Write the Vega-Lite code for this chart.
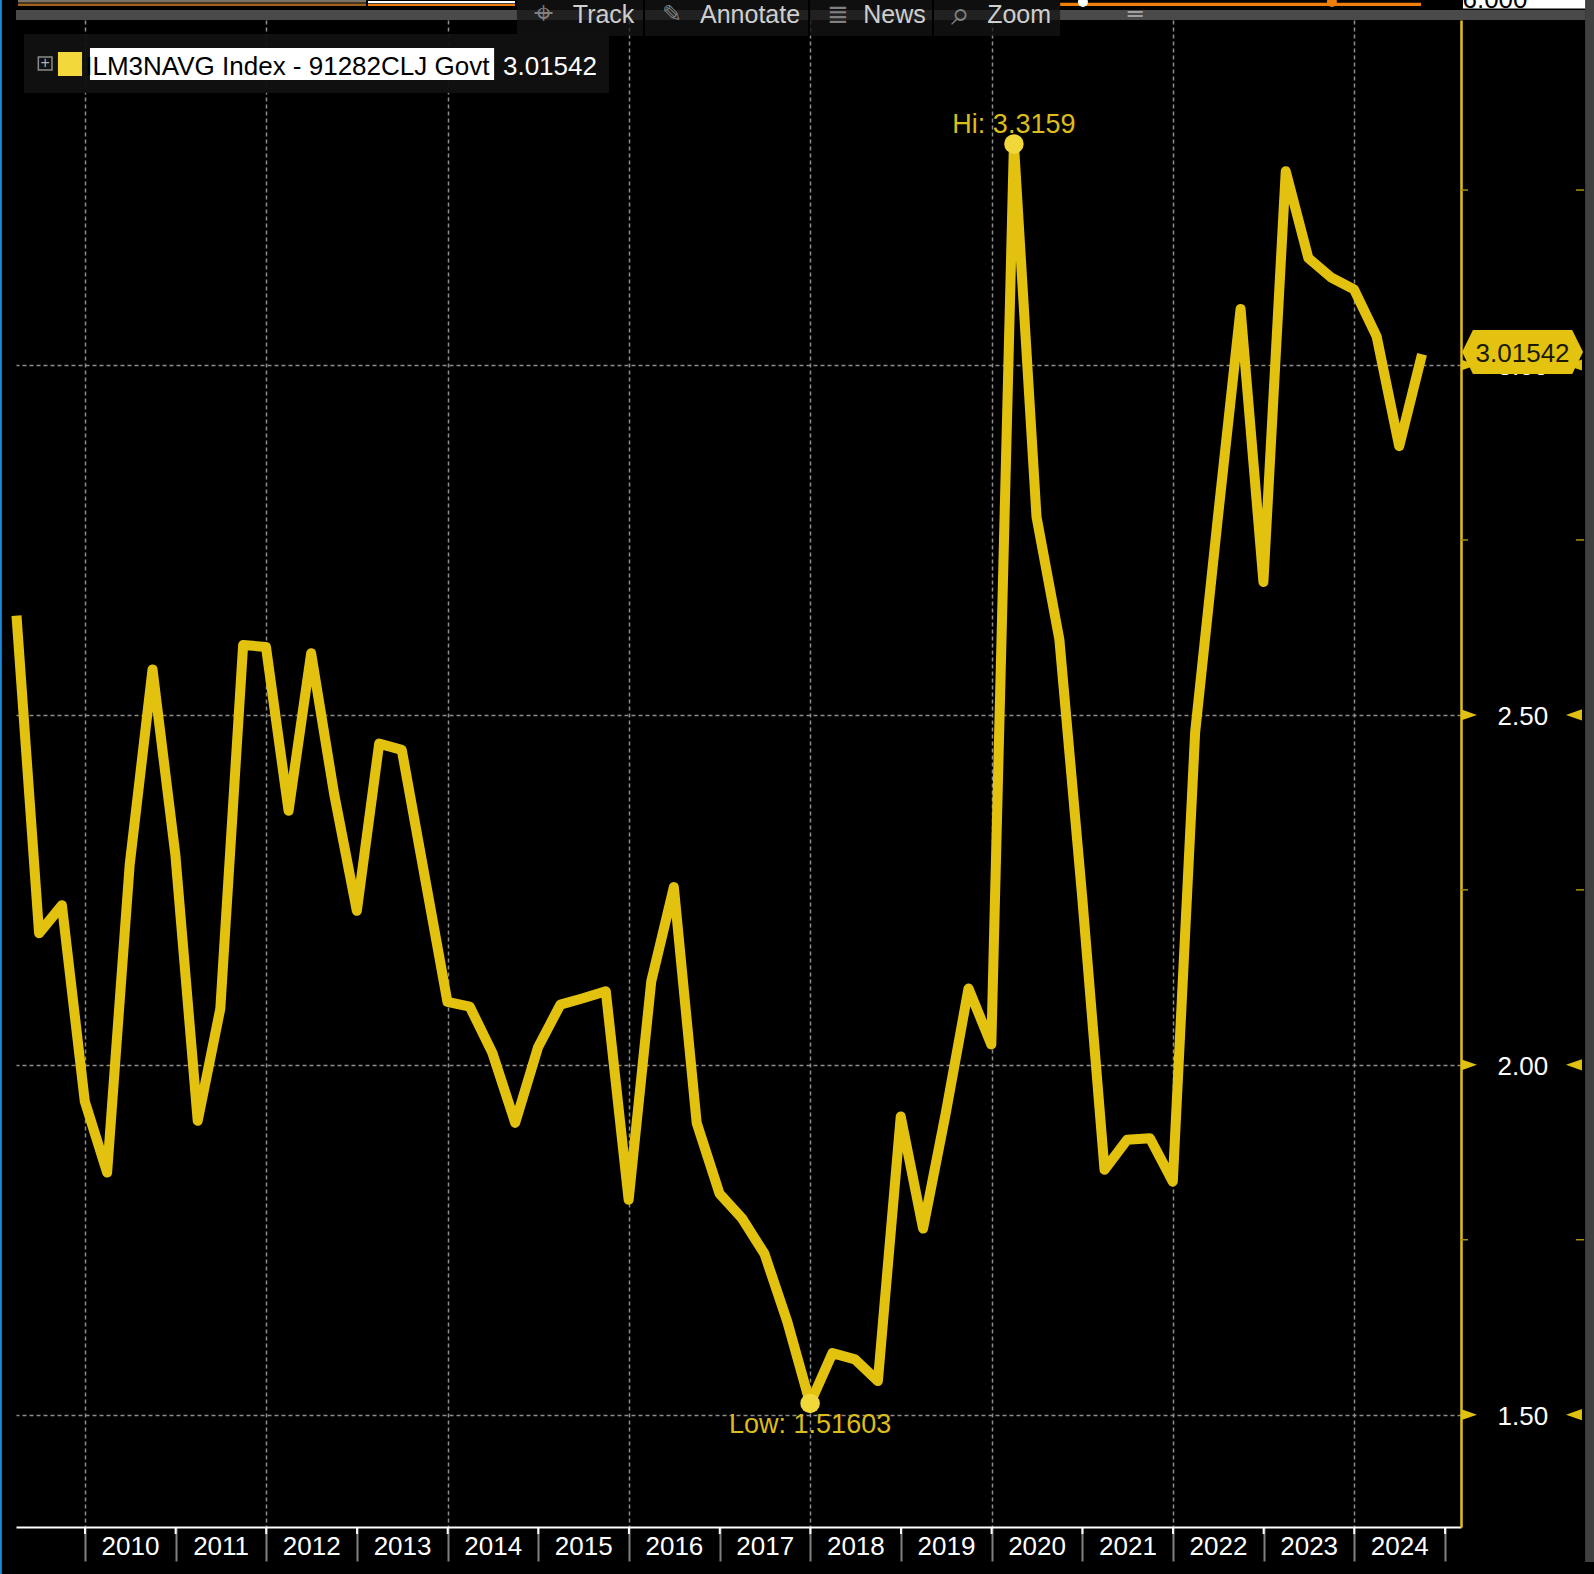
{"$schema":"https://vega.github.io/schema/vega-lite/v6.json","width":1445,"height":1507,"autosize":"none","padding":{"left":16,"top":20,"right":133,"bottom":47},"background":"#000000","view":{"stroke":null},"config":{"text":{"font":"Liberation Sans"},"axis":{"labelFont":"Liberation Sans"}},
"datasets":{"one":[{"note":"annotation"}],"minor":[{"v":1.75},{"v":2.25},{"v":2.75},{"v":3.25}],"major":[{"v":1.5},{"v":2.0},{"v":2.5},{"v":3.0}],
"years":[{"d":"2010-01-01"},{"d":"2011-01-01"},{"d":"2012-01-01"},{"d":"2013-01-01"},{"d":"2014-01-01"},{"d":"2015-01-01"},{"d":"2016-01-01"},{"d":"2017-01-01"},{"d":"2018-01-01"},{"d":"2019-01-01"},{"d":"2020-01-01"},{"d":"2021-01-01"},{"d":"2022-01-01"},{"d":"2023-01-01"},{"d":"2024-01-01"},{"d":"2025-01-01"}],
"series":[{"date":"2009-03-31","value":2.642},{"date":"2009-06-30","value":2.188},{"date":"2009-09-30","value":2.228},{"date":"2009-12-31","value":1.948},{"date":"2010-03-31","value":1.846},{"date":"2010-06-30","value":2.286},{"date":"2010-09-30","value":2.565},{"date":"2010-12-31","value":2.30},{"date":"2011-03-31","value":1.92},{"date":"2011-06-30","value":2.08},{"date":"2011-09-30","value":2.60},{"date":"2011-12-31","value":2.597},{"date":"2012-03-31","value":2.363},{"date":"2012-06-30","value":2.588},{"date":"2012-09-30","value":2.388},{"date":"2012-12-31","value":2.22},{"date":"2013-03-31","value":2.459},{"date":"2013-06-30","value":2.45},{"date":"2013-09-30","value":2.27},{"date":"2013-12-31","value":2.09},{"date":"2014-03-31","value":2.083},{"date":"2014-06-30","value":2.017},{"date":"2014-09-30","value":1.917},{"date":"2014-12-31","value":2.025},{"date":"2015-03-31","value":2.086},{"date":"2015-06-30","value":2.095},{"date":"2015-09-30","value":2.105},{"date":"2015-12-31","value":1.807},{"date":"2016-03-31","value":2.119},{"date":"2016-06-30","value":2.254},{"date":"2016-09-30","value":1.917},{"date":"2016-12-31","value":1.816},{"date":"2017-03-31","value":1.781},{"date":"2017-06-30","value":1.73},{"date":"2017-09-30","value":1.633},{"date":"2017-12-31","value":1.51603},{"date":"2018-03-31","value":1.588},{"date":"2018-06-30","value":1.579},{"date":"2018-09-30","value":1.548},{"date":"2018-12-31","value":1.926},{"date":"2019-03-31","value":1.766},{"date":"2019-06-30","value":1.93},{"date":"2019-09-30","value":2.109},{"date":"2019-12-31","value":2.029},{"date":"2020-03-31","value":3.3159},{"date":"2020-06-30","value":2.783},{"date":"2020-09-30","value":2.608},{"date":"2020-12-31","value":2.24},{"date":"2021-03-31","value":1.85},{"date":"2021-06-30","value":1.893},{"date":"2021-09-30","value":1.895},{"date":"2021-12-31","value":1.833},{"date":"2022-03-31","value":2.475},{"date":"2022-06-30","value":2.78},{"date":"2022-09-30","value":3.08},{"date":"2022-12-31","value":2.69},{"date":"2023-03-31","value":3.277},{"date":"2023-06-30","value":3.153},{"date":"2023-09-30","value":3.125},{"date":"2023-12-31","value":3.108},{"date":"2024-03-31","value":3.041},{"date":"2024-06-30","value":2.884},{"date":"2024-09-30","value":3.01542}],
"extremes":[{"date":"2020-03-31","value":3.3159},{"date":"2017-12-31","value":1.51603}]},
"data":{"name":"one"},
"layer":[
{"data":{"name":"series"},"mark":{"type":"line","stroke":"#e2c20e","strokeWidth":10,"strokeJoin":"round","strokeCap":"butt","clip":false},"encoding":{
"x":{"field":"date","type":"temporal","title":null,"scale":{"type":"utc","domain":["2009-03-29","2025-03-06"]},"axis":{"tickCount":{"interval":"year","step":1},"labelExpr":"utcyear(datum.value)==2025?'':utcFormat(datum.value,'%Y')","labelFont":"Liberation Sans","labelFontSize":26,"labelColor":"#ffffff","labelAlign":"center","labelBaseline":"middle","labelOffset":45,"labelPadding":-15,"labelBound":false,"labelFlush":false,"labelOverlap":false,"tickSize":34,"tickColor":"#808080","tickWidth":2,"domainColor":"#ffffff","domainWidth":2,"grid":true,"gridColor":"#8c8c8c","gridWidth":1.5,"gridDash":[4,3],"gridOpacity":{"condition":{"test":"utcyear(datum.value)%2==0 && utcyear(datum.value)<2025","value":1},"value":0}}},
"y":{"field":"value","type":"quantitative","title":null,"scale":{"domain":[1.3395,3.493],"nice":false,"zero":false},"axis":{"orient":"right","values":[1.5,2,2.5,3],"format":".2f","labelFont":"Liberation Sans","labelFontSize":26,"labelColor":"#ffffff","labelAlign":"left","labelBaseline":"middle","labelOffset":2,"labelPadding":36,"tickSize":0,"domainColor":"#e0c010","domainWidth":2.5,"grid":true,"gridColor":"#8c8c8c","gridWidth":1.5,"gridDash":[4,3]}}}},
{"data":{"name":"years"},"mark":{"type":"rule","stroke":"#ffffff","strokeWidth":2},"encoding":{"x":{"field":"d","type":"temporal"},"y":{"datum":1.3395},"y2":{"datum":1.3295}}},
{"data":{"name":"extremes"},"mark":{"type":"point","filled":true,"fill":"#f1d83a","opacity":1,"size":380},"encoding":{"x":{"field":"date","type":"temporal"},"y":{"field":"value","type":"quantitative"}}},
{"mark":{"type":"text","text":"Hi: 3.3159","fontSize":27,"fill":"#dcbd1a","align":"center","baseline":"middle"},"encoding":{"x":{"datum":{"year":2020,"month":3,"date":31,"utc":true},"type":"temporal"},"y":{"datum":3.3430}}},
{"mark":{"type":"text","text":"Low: 1.51603","fontSize":27,"fill":"#dcbd1a","align":"center","baseline":"middle"},"encoding":{"x":{"datum":{"year":2017,"month":12,"date":31,"utc":true},"type":"temporal"},"y":{"datum":1.4853}}},
{"data":{"name":"minor"},"mark":{"type":"rule","stroke":"#a8920f","strokeWidth":1.5},"encoding":{"x":{"datum":{"year":2025,"month":3,"date":6,"utc":true},"type":"temporal"},"x2":{"datum":{"year":2025,"month":4,"date":3,"utc":true}},"y":{"field":"v","type":"quantitative"}}},
{"data":{"name":"minor"},"mark":{"type":"rule","stroke":"#a8920f","strokeWidth":1.5},"encoding":{"x":{"datum":{"year":2026,"month":6,"date":12,"utc":true},"type":"temporal"},"x2":{"datum":{"year":2026,"month":7,"date":15,"utc":true}},"y":{"field":"v","type":"quantitative"}}},
{"data":{"name":"major"},"mark":{"type":"point","filled":true,"opacity":1,"fill":"#e0c010","size":256,"shape":"M-1,-0.7 L1,0 L-1,0.7 Z"},"encoding":{"x":{"datum":{"year":2025,"month":4,"date":7,"utc":true},"type":"temporal"},"y":{"field":"v","type":"quantitative"}}},
{"data":{"name":"major"},"mark":{"type":"point","filled":true,"opacity":1,"fill":"#e0c010","size":256,"shape":"M1,-0.7 L-1,0 L1,0.7 Z"},"encoding":{"x":{"datum":{"year":2026,"month":6,"date":4,"utc":true},"type":"temporal"},"y":{"field":"v","type":"quantitative"}}},
{"mark":{"type":"point","filled":true,"opacity":1,"fill":"#e3c30f","size":14641,"shape":"M-1,0 L-0.82,-0.364 L0.82,-0.364 L1,0 L0.82,0.364 L-0.82,0.364 Z"},"encoding":{"x":{"datum":{"year":2025,"month":11,"date":9,"utc":true},"type":"temporal"},"y":{"datum":3.0186}}},
{"mark":{"type":"text","text":"3.01542","fontSize":26,"fill":"#1a1a00","align":"center","baseline":"middle"},"encoding":{"x":{"datum":{"year":2025,"month":11,"date":9,"utc":true},"type":"temporal"},"y":{"datum":3.0157}}},
{"mark":{"type":"rect","fill":"#404040"},"encoding":{"x":{"datum":{"year":2026,"month":7,"date":19,"utc":true},"type":"temporal"},"x2":{"datum":{"year":2026,"month":8,"date":24,"utc":true}},"y":{"datum":3.5216},"y2":{"datum":1.2895}}},
{"mark":{"type":"rect","fill":"#1e88d8"},"encoding":{"x":{"datum":{"year":2009,"month":1,"date":23,"utc":true},"type":"temporal"},"x2":{"datum":{"year":2009,"month":1,"date":31,"utc":true}},"y":{"datum":3.5216},"y2":{"datum":1.2724}}},
{"mark":{"type":"rect","fill":"#4a4a4a"},"encoding":{"x":{"datum":{"year":2009,"month":3,"date":29,"utc":true},"type":"temporal"},"x2":{"datum":{"year":2026,"month":7,"date":19,"utc":true}},"y":{"datum":3.5073},"y2":{"datum":3.4930}}},
{"mark":{"type":"rect","fill":"#7d7266"},"encoding":{"x":{"datum":{"year":2009,"month":4,"date":6,"utc":true},"type":"temporal"},"x2":{"datum":{"year":2013,"month":2,"date":6,"utc":true}},"y":{"datum":3.5216},"y2":{"datum":3.5180}}},
{"mark":{"type":"rect","fill":"#a0621c"},"encoding":{"x":{"datum":{"year":2009,"month":4,"date":6,"utc":true},"type":"temporal"},"x2":{"datum":{"year":2013,"month":2,"date":6,"utc":true}},"y":{"datum":3.5166},"y2":{"datum":3.5130}}},
{"mark":{"type":"rect","fill":"#ffffff"},"encoding":{"x":{"datum":{"year":2013,"month":2,"date":14,"utc":true},"type":"temporal"},"x2":{"datum":{"year":2014,"month":9,"date":29,"utc":true}},"y":{"datum":3.5200},"y2":{"datum":3.5170}}},
{"mark":{"type":"rect","fill":"#f07f09"},"encoding":{"x":{"datum":{"year":2013,"month":2,"date":14,"utc":true},"type":"temporal"},"x2":{"datum":{"year":2014,"month":9,"date":29,"utc":true}},"y":{"datum":3.5160},"y2":{"datum":3.5130}}},
{"mark":{"type":"rect","fill":"#f07f09"},"encoding":{"x":{"datum":{"year":2020,"month":10,"date":3,"utc":true},"type":"temporal"},"x2":{"datum":{"year":2024,"month":9,"date":26,"utc":true}},"y":{"datum":3.5175},"y2":{"datum":3.5130}}},
{"mark":{"type":"point","filled":true,"opacity":1,"fill":"#ffffff","size":100},"encoding":{"x":{"datum":{"year":2021,"month":1,"date":3,"utc":true},"type":"temporal"},"y":{"datum":3.5188}}},
{"mark":{"type":"point","filled":true,"opacity":1,"fill":"#f07f09","size":100},"encoding":{"x":{"datum":{"year":2023,"month":10,"date":3,"utc":true},"type":"temporal"},"y":{"datum":3.5188}}},
{"mark":{"type":"rect","fill":"#ffffff"},"encoding":{"x":{"datum":{"year":2025,"month":3,"date":14,"utc":true},"type":"temporal"},"x2":{"datum":{"year":2026,"month":7,"date":19,"utc":true}},"y":{"datum":3.5216},"y2":{"datum":3.5095}}},
{"mark":{"type":"text","text":"6.000","fontSize":26,"fill":"#000000","align":"center","baseline":"middle"},"encoding":{"x":{"datum":{"year":2025,"month":7,"date":21,"utc":true},"type":"temporal"},"y":{"datum":3.5216}}},
{"mark":{"type":"rect","fill":"#141414","opacity":0.75},"encoding":{"x":{"datum":{"year":2014,"month":10,"date":7,"utc":true},"type":"temporal"},"x2":{"datum":{"year":2020,"month":10,"date":3,"utc":true}},"y":{"datum":3.5216},"y2":{"datum":3.4701}}},
{"mark":{"type":"rule","stroke":"#000000","strokeWidth":2},"encoding":{"x":{"datum":{"year":2016,"month":3,"date":2,"utc":true},"type":"temporal"},"y":{"datum":3.5216},"y2":{"datum":3.4701}}},
{"mark":{"type":"rule","stroke":"#000000","strokeWidth":2},"encoding":{"x":{"datum":{"year":2017,"month":12,"date":27,"utc":true},"type":"temporal"},"y":{"datum":3.5216},"y2":{"datum":3.4701}}},
{"mark":{"type":"rule","stroke":"#000000","strokeWidth":2},"encoding":{"x":{"datum":{"year":2019,"month":5,"date":10,"utc":true},"type":"temporal"},"y":{"datum":3.5216},"y2":{"datum":3.4701}}},
{"mark":{"type":"text","text":"Track","fontSize":25,"fill":"#cfcfcf","align":"center","baseline":"middle"},"encoding":{"x":{"datum":{"year":2015,"month":9,"date":21,"utc":true},"type":"temporal"},"y":{"datum":3.4995}}},
{"mark":{"type":"text","text":"Annotate","fontSize":25,"fill":"#cfcfcf","align":"center","baseline":"middle"},"encoding":{"x":{"datum":{"year":2017,"month":5,"date":3,"utc":true},"type":"temporal"},"y":{"datum":3.4995}}},
{"mark":{"type":"text","text":"News","fontSize":25,"fill":"#cfcfcf","align":"center","baseline":"middle"},"encoding":{"x":{"datum":{"year":2018,"month":12,"date":6,"utc":true},"type":"temporal"},"y":{"datum":3.4995}}},
{"mark":{"type":"text","text":"Zoom","fontSize":25,"fill":"#cfcfcf","align":"center","baseline":"middle"},"encoding":{"x":{"datum":{"year":2020,"month":4,"date":21,"utc":true},"type":"temporal"},"y":{"datum":3.4995}}},
{"mark":{"type":"text","text":"⌖","font":"DejaVu Sans","fontSize":34,"fill":"#808080","align":"center","baseline":"middle"},"encoding":{"x":{"datum":{"year":2015,"month":1,"date":20,"utc":true},"type":"temporal"},"y":{"datum":3.4995}}},
{"mark":{"type":"text","text":"✎","font":"DejaVu Sans","fontSize":24,"fill":"#808080","align":"center","baseline":"middle"},"encoding":{"x":{"datum":{"year":2016,"month":6,"date":23,"utc":true},"type":"temporal"},"y":{"datum":3.5002}}},
{"mark":{"type":"text","text":"≣","font":"DejaVu Sans","fontSize":26,"fill":"#808080","align":"center","baseline":"middle"},"encoding":{"x":{"datum":{"year":2018,"month":4,"date":22,"utc":true},"type":"temporal"},"y":{"datum":3.5002}}},
{"mark":{"type":"text","text":"⌕","font":"DejaVu Sans","fontSize":34,"fill":"#808080","align":"center","baseline":"middle"},"encoding":{"x":{"datum":{"year":2019,"month":8,"date":27,"utc":true},"type":"temporal"},"y":{"datum":3.5002}}},
{"mark":{"type":"text","text":"═","font":"DejaVu Sans","fontSize":24,"fill":"#a0a0a0","align":"center","baseline":"middle"},"encoding":{"x":{"datum":{"year":2021,"month":8,"date":1,"utc":true},"type":"temporal"},"y":{"datum":3.5002}}},
{"mark":{"type":"rect","fill":"#111111","opacity":0.95},"encoding":{"x":{"datum":{"year":2009,"month":4,"date":30,"utc":true},"type":"temporal"},"x2":{"datum":{"year":2015,"month":10,"date":13,"utc":true}},"y":{"datum":3.4730},"y2":{"datum":3.3887}}},
{"mark":{"type":"rect","fill":"#111111","stroke":"#8a8a8a","strokeWidth":1.5},"encoding":{"x":{"datum":{"year":2009,"month":6,"date":27,"utc":true},"type":"temporal"},"x2":{"datum":{"year":2009,"month":8,"date":21,"utc":true}},"y":{"datum":3.4401},"y2":{"datum":3.4215}}},
{"mark":{"type":"text","text":"+","fontSize":16,"fill":"#b0b0b0","align":"center","baseline":"middle"},"encoding":{"x":{"datum":{"year":2009,"month":7,"date":25,"utc":true},"type":"temporal"},"y":{"datum":3.4311}}},
{"mark":{"type":"rect","fill":"#f3d83c"},"encoding":{"x":{"datum":{"year":2009,"month":9,"date":14,"utc":true},"type":"temporal"},"x2":{"datum":{"year":2009,"month":12,"date":20,"utc":true}},"y":{"datum":3.4473},"y2":{"datum":3.4130}}},
{"mark":{"type":"rect","fill":"#ffffff"},"encoding":{"x":{"datum":{"year":2010,"month":1,"date":21,"utc":true},"type":"temporal"},"x2":{"datum":{"year":2014,"month":7,"date":7,"utc":true}},"y":{"datum":3.4530},"y2":{"datum":3.4073}}},
{"mark":{"type":"text","text":"ILM3NAVG Index - 91282CLJ Govt","fontSize":26,"fill":"#000000","align":"center","baseline":"middle"},"encoding":{"x":{"datum":{"year":2012,"month":3,"date":26,"utc":true},"type":"temporal"},"y":{"datum":3.4258}}},
{"mark":{"type":"text","text":"3.01542","fontSize":26,"fill":"#ffffff","align":"center","baseline":"middle"},"encoding":{"x":{"datum":{"year":2015,"month":2,"date":17,"utc":true},"type":"temporal"},"y":{"datum":3.4258}}}
]}
